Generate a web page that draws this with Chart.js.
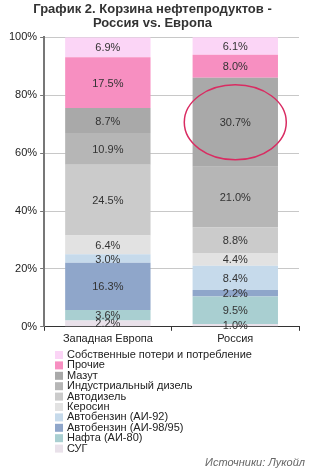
<!DOCTYPE html>
<html>
<head>
<meta charset="utf-8">
<script src="https://cdn.jsdelivr.net/npm/chart.js@4/dist/chart.umd.min.js"></script>
<style>
  html, body { margin: 0; padding: 0; background: #fff; }
  #wrap { width: 310px; height: 469px; position: relative; }
</style>
</head>
<body>
<div id="wrap"><canvas id="myChart"></canvas></div>
<script>
// categories (bars)
let regions = ["Западная Европа", "Россия"];

// products, bottom of the stack first
let products = [
    "СУГ",
    "Нафта (АИ-80)",
    "Автобензин (АИ-98/95)",
    "Автобензин (АИ-92)",
    "Керосин",
    "Автодизель",
    "Индустриальный дизель",
    "Мазут",
    "Прочие",
    "Собственные потери и потребление"
];

// shares, % (same order as products)
let europeShares = [2.2, 3.6, 16.3, 3.0, 6.4, 24.5, 10.9, 8.7, 17.5, 6.9];
let russiaShares = [1.0, 9.5, 2.2, 8.4, 4.4, 8.8, 21.0, 30.7, 8.0, 6.1];

let productColors = [
    "#e9e1ea", "#a9cfd1", "#8fa6ca", "#c6daeb", "#e2e2e2",
    "#cbcbcb", "#b6b6b6", "#a9a9a9", "#f78fc1", "#fbd5f6"
];

let yTicks = [0, 20, 40, 60, 80, 100];
let highlighted = "Мазут";
let sourceText = "Источники: Лукойл";

let font = "'Liberation Sans', Arial, sans-serif";

let datasets = products.map((name, i) => ({
    label: name,
    data: [europeShares[i], russiaShares[i]],
    backgroundColor: productColors[i],
    borderWidth: 0,
    categoryPercentage: 1,
    barPercentage: 0.67
}));

// value labels in the middle of every segment
let valueLabels = {
    id: "valueLabels",
    afterDatasetsDraw(chart) {
        let ctx = chart.ctx;
        ctx.save();
        ctx.font = "11px " + font;
        ctx.fillStyle = "#333";
        ctx.textAlign = "center";
        ctx.textBaseline = "middle";
        chart.data.datasets.forEach((ds, i) => {
            chart.getDatasetMeta(i).data.forEach((bar, j) => {
                let y = (bar.y + bar.base) / 2;
                ctx.fillText(ds.data[j].toFixed(1) + "%", bar.x, y + 1);
            });
        });
        ctx.restore();
    }
};

// ring around the Russian fuel oil share
let ring = {
    id: "ring",
    afterDatasetsDraw(chart) {
        let idx = products.indexOf(highlighted);
        let bar = chart.getDatasetMeta(idx).data[1];
        let ctx = chart.ctx;
        ctx.save();
        ctx.strokeStyle = "#d92c62";
        ctx.lineWidth = 1.5;
        ctx.beginPath();
        ctx.ellipse(bar.x, (bar.y + bar.base) / 2, 51, 37.5, 0, 0, Math.PI * 2);
        ctx.stroke();
        ctx.restore();
    }
};

// single column legend and source line under the chart
let columnLegend = {
    id: "columnLegend",
    afterDraw(chart) {
        let ctx = chart.ctx;
        ctx.save();
        ctx.font = "11px " + font;
        ctx.textBaseline = "middle";
        let top = 355;
        let n = products.length;
        for (let k = 0; k < n; k++) {
            let i = n - 1 - k;
            let y = top + k * 10.4;
            ctx.fillStyle = productColors[i];
            ctx.fillRect(55, y - 4, 8, 8);
            ctx.fillStyle = "#222";
            ctx.textAlign = "left";
            ctx.fillText(products[i], 67, y);
        }
        ctx.font = "italic 11px " + font;
        ctx.fillStyle = "#666";
        ctx.textAlign = "right";
        ctx.fillText(sourceText, 305, chart.height - 6);
        ctx.restore();
    }
};

let ctx = document.getElementById("myChart").getContext("2d");
let chartOne = new Chart(ctx, {
    type: "bar",
    data: { labels: regions, datasets: datasets },
    options: {
        responsive: true,
        maintainAspectRatio: false,
        animation: false,
        layout: { padding: { left: 6, right: 11, top: 0, bottom: 121 } },
        plugins: {
            legend: { display: false },
            tooltip: { enabled: false },
            title: {
                display: true,
                text: ["График 2. Корзина нефтепродуктов -", "Россия vs. Европа"],
                color: "#333",
                font: { family: font, size: 13, weight: "bold", lineHeight: 1.05 },
                padding: { top: 3, bottom: 7 }
            }
        },
        scales: {
            x: {
                stacked: true,
                border: { color: "#333", width: 1 },
                grid: { drawOnChartArea: false, drawTicks: true, tickLength: 4, tickColor: "#333" },
                ticks: { color: "#222", font: { family: font, size: 11 }, padding: 2 }
            },
            y: {
                stacked: true,
                min: 0,
                max: 100,
                afterBuildTicks(axis) { axis.ticks = yTicks.map(v => ({ value: v })); },
                border: { color: "#777", width: 2 },
                grid: {
                    color: "#c8c8c8",
                    borderDash: [5, 4],
                    tickLength: 4,
                    tickColor: "#777",
                    tickBorderDash: []
                },
                ticks: {
                    color: "#222",
                    font: { family: font, size: 11 },
                    padding: 3,
                    callback: v => v + "%"
                }
            }
        }
    },
    plugins: [valueLabels, ring, columnLegend]
});
</script>
</body>
</html>
